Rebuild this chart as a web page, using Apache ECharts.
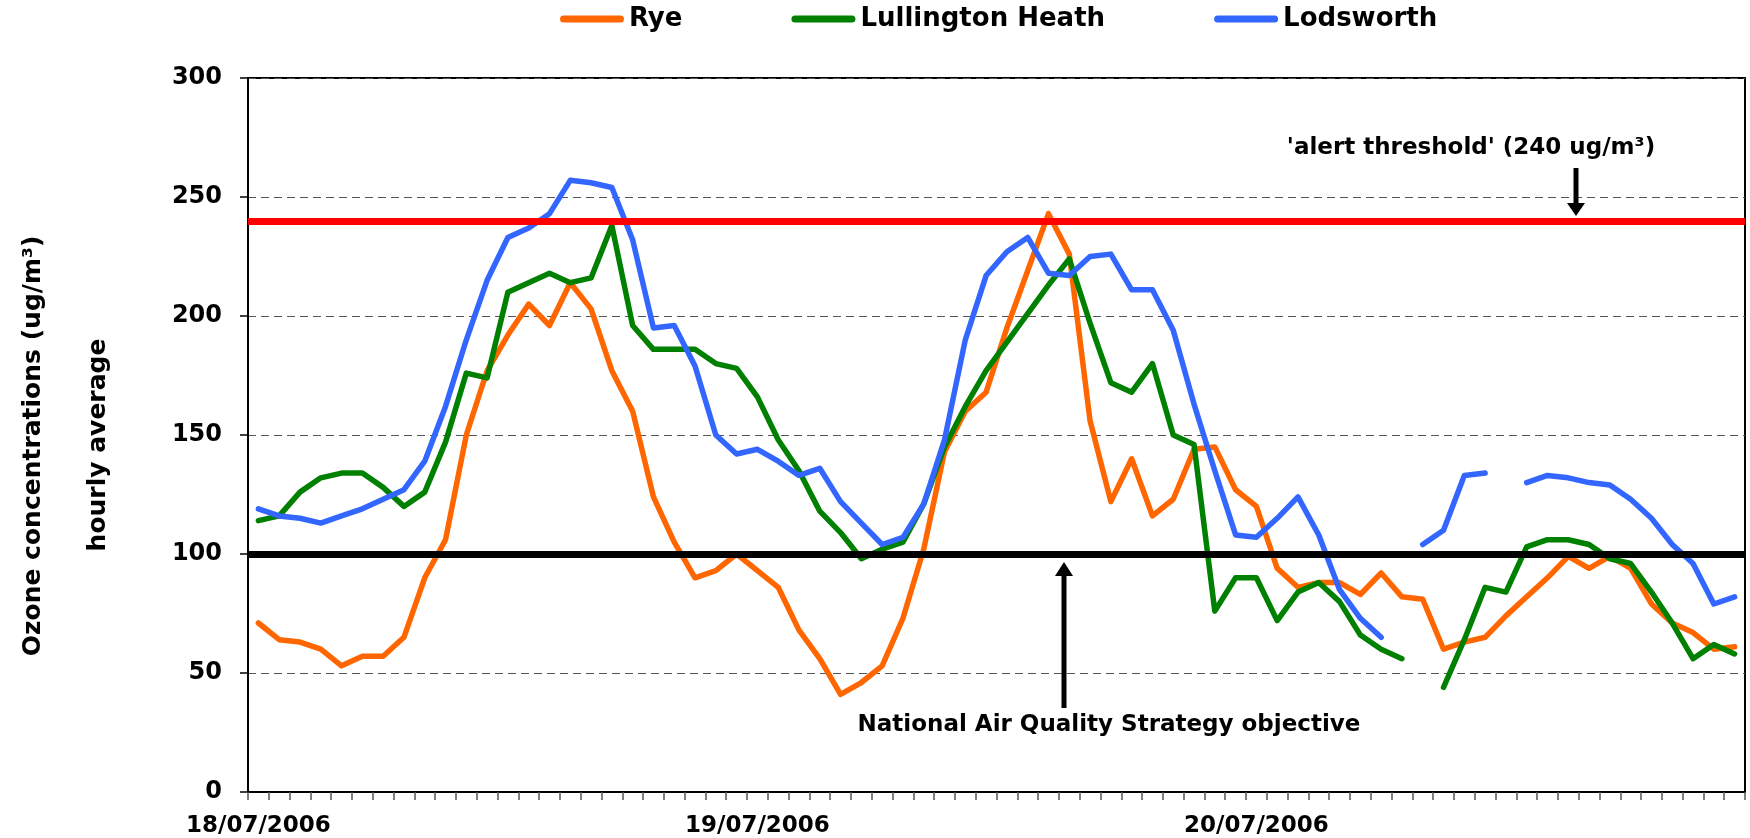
<!DOCTYPE html>
<html>
<head>
<meta charset="utf-8">
<script src="https://cdn.jsdelivr.net/npm/echarts@6/dist/echarts.min.js"></script>
<style>
html,body{margin:0;padding:0;background:#fff;}
#main{width:1750px;height:838px;}
</style>
</head>
<body>
<div id="main"></div>
<script>
// days and hours -> 72 hourly categories
var dates = ['18/07/2006', '19/07/2006', '20/07/2006'];
var hours = ['00:00','01:00','02:00','03:00','04:00','05:00','06:00','07:00','08:00','09:00','10:00','11:00',
             '12:00','13:00','14:00','15:00','16:00','17:00','18:00','19:00','20:00','21:00','22:00','23:00'];

// hourly ozone, ug/m3 (null = no data)
var rye = [71, 64, 63, 60, 53, 57, 57, 65, 90, 106, 150, 177, 192, 205, 196, 214, 203, 177, 160, 124, 105, 90, 93, 100,
           93, 86, 68, 56, 41, 46, 53, 73, 102, 143, 160, 168, 195, 219, 243, 226, 156, 122, 140, 116, 123, 144, 145, 127,
           120, 94, 86, 88, 88, 83, 92, 82, 81, 60, 63, 65, 74, 82, 90, 99, 94, 99, 94, 79, 71, 67, 60, 61];
var lullington = [114, 116, 126, 132, 134, 134, 128, 120, 126, 147, 176, 174, 210, 214, 218, 214, 216, 238, 196, 186, 186, 186, 180, 178,
                  166, 148, 135, 118, 109, 98, 102, 105, 121, 145, 162, 177, 189, 201, 213, 224, 197, 172, 168, 180, 150, 146, 76, 90,
                  90, 72, 84, 88, 80, 66, 60, 56, null, 44, 64, 86, 84, 103, 106, 106, 104, 98, 96, 84, 71, 56, 62, 58];
var lodsworth = [119, 116, 115, 113, 116, 119, 123, 127, 139, 162, 190, 215, 233, 237, 243, 257, 256, 254, 232, 195, 196, 179, 150, 142,
                 144, 139, 133, 136, 122, 113, 104, 107, 121, 148, 190, 217, 227, 233, 218, 217, 225, 226, 211, 211, 194, 163, 135, 108,
                 107, 115, 124, 108, 85, 73, 65, null, 104, 110, 133, 134, null, 130, 133, 132, 130, 129, 123, 115, 104, 96, 79, 82];

var alertLevel = 240;     // 'alert threshold'
var objectiveLevel = 100; // national objective

var categories = [];
dates.forEach(function (d) {
    hours.forEach(function (h) { categories.push(d + ' ' + h); });
});

var FONT = 'DejaVu Sans';

function lineSeries(name, values, color) {
    return {
        name: name,
        type: 'line',
        data: values,
        symbol: 'none',
        connectNulls: false,
        itemStyle: { color: color },
        lineStyle: { color: color, width: 5.5, cap: 'round', join: 'round' }
    };
}

var chart = echarts.init(document.getElementById('main'));

var option = {
    animation: false,
    backgroundColor: '#fff',
    legend: {
        data: ['Rye', 'Lullington Heath', 'Lodsworth'],
        left: 560,
        top: 6,
        padding: 0,
        itemWidth: 64,
        itemHeight: 7,
        itemGap: 109,
        icon: 'path://M3.5,0 L60.5,0 A3.5,3.5 0 0 1 60.5,7 L3.5,7 A3.5,3.5 0 0 1 3.5,0 Z',
        textStyle: { fontFamily: FONT, fontWeight: 'bold', fontSize: 26, color: '#000' }
    },
    grid: {
        left: 248, right: 5, top: 78, bottom: 46,
        show: true, borderColor: '#000', borderWidth: 2
    },
    xAxis: {
        type: 'category',
        data: categories,
        boundaryGap: true,
        axisLine: { lineStyle: { color: '#000', width: 2 } },
        axisTick: { show: true, interval: 0, length: 8, lineStyle: { color: '#555', width: 1.5 } },
        axisLabel: {
            interval: 23,
            margin: 23,
            fontFamily: FONT, fontWeight: 'bold', fontSize: 23, color: '#000',
            formatter: function (v) { return v.split(' ')[0]; }
        },
        splitLine: { show: false }
    },
    yAxis: {
        type: 'value',
        min: 0, max: 300, interval: 50,
        axisLine: { show: true, lineStyle: { color: '#000', width: 2 } },
        axisTick: { show: true, length: 8, lineStyle: { color: '#000', width: 1.5 } },
        axisLabel: { margin: 26, fontFamily: FONT, fontWeight: 'bold', fontSize: 24, color: '#000' },
        splitLine: { lineStyle: { color: '#555', width: 1.2, type: [8, 5] } }
    },
    series: [
        lineSeries('Rye', rye, '#FF6600'),
        lineSeries('Lullington Heath', lullington, '#008000'),
        lineSeries('Lodsworth', lodsworth, '#3366FF'),
        {
            // threshold lines drawn on top of the data
            name: 'limits',
            type: 'line',
            data: [],
            z: 5,
            markLine: {
                silent: true,
                symbol: ['none', 'none'],
                label: { show: false },
                data: [
                    { yAxis: alertLevel, lineStyle: { color: '#FF0000', width: 7, type: 'solid' } },
                    { yAxis: objectiveLevel, lineStyle: { color: '#000', width: 7, type: 'solid' } }
                ]
            }
        }
    ],
    graphic: [
        { type: 'text', x: 33, y: 446, rotation: Math.PI / 2,
          style: { text: 'Ozone concentrations (ug/m³)', font: 'bold 25px "DejaVu Sans"', fill: '#000', align: 'center', verticalAlign: 'middle' } },
        { type: 'text', x: 98, y: 445, rotation: Math.PI / 2,
          style: { text: 'hourly average', font: 'bold 25px "DejaVu Sans"', fill: '#000', align: 'center', verticalAlign: 'middle' } },
        // alert threshold note + arrow
        { type: 'text', x: 1471, y: 148,
          style: { text: "'alert threshold' (240 ug/m³)", font: 'bold 23px "DejaVu Sans"', fill: '#000', align: 'center', verticalAlign: 'middle' } },
        { type: 'line', shape: { x1: 1576, y1: 168, x2: 1576, y2: 204 }, style: { stroke: '#000', lineWidth: 5 }, z: 10 },
        { type: 'polygon', shape: { points: [[1567, 203], [1585, 203], [1576, 216]] }, style: { fill: '#000' }, z: 10 },
        // objective note + arrow
        { type: 'text', x: 1109, y: 725,
          style: { text: 'National Air Quality Strategy objective', font: 'bold 23px "DejaVu Sans"', fill: '#000', align: 'center', verticalAlign: 'middle' } },
        { type: 'line', shape: { x1: 1064, y1: 708, x2: 1064, y2: 574 }, style: { stroke: '#000', lineWidth: 5 }, z: 10 },
        { type: 'polygon', shape: { points: [[1055, 576], [1073, 576], [1064, 562]] }, style: { fill: '#000' }, z: 10 }
    ]
};

chart.setOption(option);
</script>
</body>
</html>
